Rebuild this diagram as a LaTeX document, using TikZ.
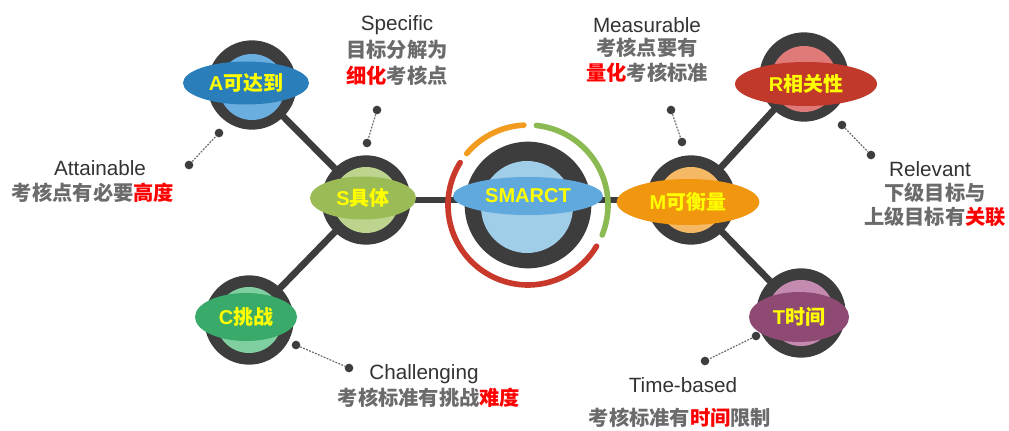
\documentclass[tikz,border=0pt]{standalone}
\usepackage{fontspec}
\setmainfont{Liberation Sans}
\newfontfamily\cjk{Noto Sans CJK SC}
\usetikzlibrary{shapes.geometric,backgrounds}
\definecolor{ringc}{HTML}{3D3D3D}
\definecolor{txtdark}{HTML}{333333}
\definecolor{txtgray}{HTML}{6B6B6B}
\definecolor{hl}{HTML}{FF0000}
\definecolor{lbl}{HTML}{FFFF00}
\definecolor{blueE}{HTML}{5FA9DC}\definecolor{blueI}{HTML}{A0CDE8}
\definecolor{aE}{HTML}{2A7FBA}\definecolor{aI}{HTML}{6AAEE0}
\definecolor{sE}{HTML}{9BBB57}\definecolor{sI}{HTML}{BCD48E}
\definecolor{cE}{HTML}{3AAA6A}\definecolor{cI}{HTML}{80CFA0}
\definecolor{mE}{HTML}{F0960F}\definecolor{mI}{HTML}{F5B865}
\definecolor{rE}{HTML}{C0392B}\definecolor{rI}{HTML}{E07A78}
\definecolor{tE}{HTML}{8E4A73}\definecolor{tI}{HTML}{C58AB0}
\definecolor{arcO}{HTML}{F29C1F}\definecolor{arcG}{HTML}{8CBA52}\definecolor{arcR}{HTML}{C9392B}
\newcommand\zh[1]{{\cjk\bfseries #1}}
\tikzset{
  ringnode/.style={circle, fill=ringc, minimum size=67pt, inner sep=0pt},
  bigring/.style={circle, fill=ringc, minimum size=95pt, inner sep=0pt},
  innernode/.style={circle, minimum size=49.5pt, inner sep=0pt},
  lens/.style={ellipse, inner sep=0pt, text=lbl, font=\fontsize{15}{18}\selectfont\bfseries},
  link/.style={draw=ringc, line width=5pt},
  dotnode/.style={circle, fill=ringc, minimum size=6.5pt, inner sep=0pt},
  dotlink/.style={draw=txtgray, line width=0.9pt, dash pattern=on 1.4pt off 1pt},
  entxt/.style={text=txtdark, font=\fontsize{15.5}{18}\selectfont, inner sep=0pt},
  zhtxt/.style={text=txtgray, font=\fontsize{15.2}{18}\selectfont, inner sep=0pt},
  arcline/.style={line width=4.2pt, line cap=round}
}
\begin{document}
\begin{tikzpicture}[x=0.75pt, y=-0.75pt]
\useasboundingbox (0,0) rectangle (1009,431);

% centre
\node[bigring] (X) at (528,205) {};
\node[innernode, minimum size=69pt, fill=blueI] (Xi) at (527,207) {};
\node[lens, fill=blueE, minimum width=112.5pt, minimum height=28.5pt] (Xe) at (528,196) {SMARCT};

% satellites
\node[ringnode] (A) at (252,85) {};
\node[innernode, fill=aI] (Ai) at (252,87) {};
\node[lens, fill=aE, minimum width=94.5pt, minimum height=32.25pt] (Ae) at (246,83) {A\zh{可达到}};

\node[ringnode] (S) at (366,200) {};
\node[innernode, fill=sI] (Si) at (366,200) {};
\node[lens, fill=sE, minimum width=79.5pt, minimum height=32.25pt] (Se) at (363,198) {S\zh{具体}};

\node[ringnode] (C) at (249,320) {};
\node[innernode, fill=cI] (Ci) at (249,320) {};
\node[lens, fill=cE, minimum width=76.5pt, minimum height=36pt] (Ce) at (246,317) {C\zh{挑战}};

\node[ringnode] (M) at (691,200) {};
\node[innernode, fill=mI] (Mi) at (691,200) {};
\node[lens, fill=mE, minimum width=107pt, minimum height=34.5pt] (Me) at (688,202) {M\zh{可衡量}};

\node[ringnode] (R) at (804,77) {};
\node[innernode, fill=rI] (Ri) at (804,79) {};
\node[lens, fill=rE, minimum width=106.5pt, minimum height=33pt] (Re) at (806,84) {R\zh{相关性}};

\node[ringnode] (T) at (801,313) {};
\node[innernode, fill=tI] (Ti) at (801,313) {};
\node[lens, fill=tE, minimum width=75pt, minimum height=37.5pt] (Te) at (799,317) {T\zh{时间}};

\begin{scope}[on background layer]
  \draw[link] (S.center) -- (A.center);
  \draw[link] (S.center) -- (C.center);
  \draw[link] (S.center) -- (S.center -| X.center);
  \draw[link] (M.center -| X.center) -- (M.center);
  \draw[link] (M.center) -- (R.center);
  \draw[link] (M.center) -- (T.center);
\end{scope}

% arcs round the centre
\draw[arcline, arcO] ([shift={(93:60pt)}]X.center) arc[start angle=93, end angle=140, radius=60pt];
\draw[arcline, arcG] ([shift={(84:60pt)}]X.center) arc[start angle=84, end angle=-22, radius=60pt];
\draw[arcline, arcR] ([shift={(148:60pt)}]X.center) arc[start angle=148, end angle=329, radius=60pt];

% dotted pointers
\node[dotnode] (pa1) at (189,165) {};
\node[dotnode] (pa2) at (219,133) {};
\draw[dotlink] (pa1) -- (pa2);
\node[dotnode] (ps1) at (377,110) {};
\node[dotnode] (ps2) at (367,143) {};
\draw[dotlink] (ps1) -- (ps2);
\node[dotnode] (pm1) at (671,110) {};
\node[dotnode] (pm2) at (682,142) {};
\draw[dotlink] (pm1) -- (pm2);
\node[dotnode] (pr1) at (842,125) {};
\node[dotnode] (pr2) at (871,155) {};
\draw[dotlink] (pr1) -- (pr2);
\node[dotnode] (pc1) at (296,345) {};
\node[dotnode] (pc2) at (349,368) {};
\draw[dotlink] (pc1) -- (pc2);
\node[dotnode] (pt1) at (756,336) {};
\node[dotnode] (pt2) at (705,361) {};
\draw[dotlink] (pt1) -- (pt2);

% texts
\node[entxt] (spec) at (397,25) {Specific};
\node[zhtxt] (spec2) at (397,50) {\zh{目标分解为}};
\node[zhtxt] (spec3) at (397,76) {\zh{\textcolor{hl}{细化}考核点}};

\node[entxt] (meas) at (647,25) {Measurable};
\node[zhtxt] (meas2) at (647,48) {\zh{考核点要有}};
\node[zhtxt] (meas3) at (647,73) {\zh{\textcolor{hl}{量化}考核标准}};

\node[entxt] (att) at (100,168) {Attainable};
\node[zhtxt] (att2) at (93,193) {\zh{考核点有必要\textcolor{hl}{高度}}};

\node[entxt] (rel) at (930,169) {Relevant};
\node[zhtxt] (rel2) at (935,193) {\zh{下级目标与}};
\node[zhtxt] (rel3) at (935,217) {\zh{上级目标有\textcolor{hl}{关联}}};

\node[entxt] (cha) at (424,374) {Challenging};
\node[zhtxt] (cha2) at (429,398) {\zh{考核标准有挑战\textcolor{hl}{难度}}};

\node[entxt] (tim) at (683,385) {Time-based};
\node[zhtxt] (tim2) at (680,418) {\zh{考核标准有\textcolor{hl}{时间}限制}};
\end{tikzpicture}
\end{document}
